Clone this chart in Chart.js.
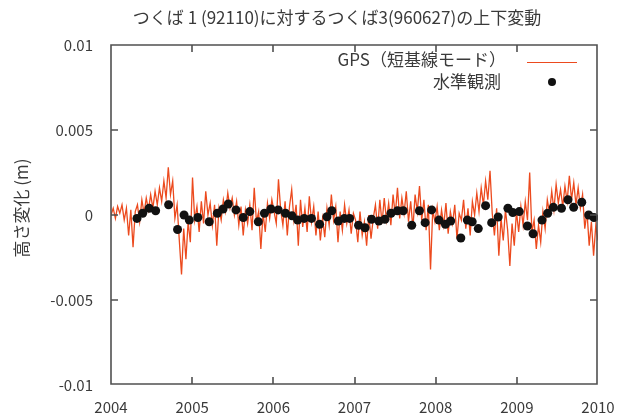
<!DOCTYPE html>
<html>
<head>
<meta charset="utf-8">
<script src="https://cdn.jsdelivr.net/npm/chart.js@4"></script>
<style>
  body { margin: 0; background: #fff; }
  canvas { display: block; }
</style>
</head>
<body>
<canvas id="chart" width="628" height="414"></canvas>
<script>
// Labels
const title = "つくば 1 (92110)に対するつくば3(960627)の上下変動";
const yTitle = "高さ変化 (m)";
const gpsLabel = "GPS（短基線モード）";
const levelLabel = "水準観測";

// Axis range / ticks
const xRange = [2004, 2010];
const yTicks = [-0.01, -0.005, 0, 0.005, 0.01];

// GPS (short baseline), mm, every 10 days from 2004.0 to 2010.0
const gpsMm = [
  // 2004
  0.0, 0.4, -0.2, 0.5, 0.1, 0.6, -0.3, 0.4, -1.2, 0.3, -1.9, 0.2, 0.6, -0.4, 0.9, 0.1, 1.0, 0.3, 1.2,
  0.4, 1.4, 0.6, 1.6, 0.8, 2.0, 1.0, 2.8, 1.2, 2.0, -0.2, 0.6, -1.5, -3.5, -0.8, -2.6, -0.4, -1.6,
  // 2005
  2.2, -0.3, 0.5, -1.0, 0.8, -0.5, 1.4, 0.0, 0.7, -0.6, 0.6, -1.8, 0.4, -0.3, 0.9, 0.2, 1.3, 0.4, 1.0,
  0.0, 0.8, -0.6, 0.5, -1.2, 0.3, -0.5, 0.6, -0.9, 1.6, -0.4, 0.2, -2.0, 0.1, -1.0, 0.7, -0.2, 0.9,
  // 2006
  0.2, -0.5, 2.1, 0.3, -0.6, 0.8, -1.2, 0.5, 1.5, -0.3, 0.6, -1.8, 0.9, -0.7, 0.4, -1.0, 1.1, -0.4, 0.5,
  -1.2, 0.2, -1.5, -0.2, -1.3, 0.4, -0.6, 1.2, -0.3, 0.5, -1.6, 0.2, -0.9, 0.6, -0.5, 0.3, -1.1, 0.1,
  // 2007
  -0.3, -1.6, 0.2, -1.2, -0.4, -1.8, 0.0, -1.4, -0.2, 0.6, -0.8, 0.9, -0.5, 1.0, -0.3, 0.7, -0.6, 1.2,
  0.0, 1.6, -0.2, 1.0, 0.1, 1.4, -0.4, 0.8, -0.8, 1.2, 0.2, 1.7, -0.3, 0.9, -0.9, 0.6, -3.2, 0.3,
  // 2008
  -0.4, 0.5, -0.9, 0.3, -0.6, 0.7, -1.1, 0.2, -0.5, 0.6, -1.4, 0.1, -0.3, 0.9, -0.8, 0.4, -1.2, 0.8,
  0.0, 1.3, 0.2, 1.6, 0.6, 2.0, 0.9, 2.6, 0.1, -1.2, 0.4, -2.4, -0.2, -1.5, 0.3, -0.9, -3.0, -0.5,
  // 2009
  -1.8, 0.2, -1.0, 0.5, -0.6, 0.8, -0.3, 2.5, -1.0, -0.3, -2.0, -0.6, -1.6, 0.2, -0.8, 0.9, 0.1, 1.4,
  0.3, 1.8, 0.7, 1.5, 0.5, 1.7, 0.8, 2.3, 0.9, 1.9, 0.6, 1.6, 0.4, 1.2, -0.8, 0.2, -1.8, -0.4, -2.4,
  -0.6, -1.5
];

// Levelling survey epochs (decimal year) and height change (mm)
const levelT = [
  2004.32, 2004.39, 2004.47, 2004.55, 2004.71, 2004.82, 2004.90, 2004.965,
  2005.07, 2005.21, 2005.31, 2005.38, 2005.445, 2005.54, 2005.63, 2005.71, 2005.815, 2005.89, 2005.97,
  2006.06, 2006.15, 2006.23, 2006.30, 2006.38, 2006.47, 2006.57, 2006.66, 2006.72, 2006.80, 2006.875, 2006.94,
  2007.05, 2007.13, 2007.21, 2007.30, 2007.375, 2007.45, 2007.53, 2007.60, 2007.705, 2007.80, 2007.87, 2007.95,
  2008.04, 2008.12, 2008.185, 2008.31, 2008.39, 2008.45, 2008.525, 2008.615, 2008.69, 2008.77, 2008.89, 2008.95,
  2009.03, 2009.13, 2009.20, 2009.31, 2009.38, 2009.45, 2009.55, 2009.63, 2009.70, 2009.80, 2009.885, 2009.95
];
const levelMm = [
  -0.2, 0.1, 0.4, 0.25, 0.6, -0.85, 0.0, -0.3,
  -0.15, -0.4, 0.1, 0.35, 0.65, 0.3, -0.15, 0.2, -0.4, 0.1, 0.35,
  0.3, 0.1, -0.05, -0.3, -0.2, -0.2, -0.55, -0.1, 0.25, -0.35, -0.2, -0.2,
  -0.6, -0.75, -0.25, -0.35, -0.25, 0.1, 0.25, 0.25, -0.6, 0.25, -0.45, 0.3,
  -0.3, -0.55, -0.35, -1.35, -0.3, -0.4, -0.8, 0.55, -0.45, -0.12, 0.4, 0.15,
  0.2, -0.65, -1.1, -0.3, 0.1, 0.45, 0.4, 0.9, 0.45, 0.75, 0.0, -0.15
];

const FONT = '"Noto Sans CJK JP", "Noto Sans", sans-serif';
const TEXT = "#3a3a3a";
const FRAME = "#505050";
const GPS_COLOR = "#ec4a1e";

// build point lists (mm -> m)
const gpsStep = (xRange[1] - xRange[0]) / (gpsMm.length - 1);
const gpsPoints = gpsMm.map((v, i) => ({ x: xRange[0] + i * gpsStep, y: v / 1000 }));
const levelPoints = levelT.map((t, i) => ({ x: t, y: levelMm[i] / 1000 }));

// frame, inward ticks, title, y title and gnuplot-like key
const decor = {
  id: "decor",
  afterDraw(chart) {
    const ctx = chart.ctx;
    const xs = chart.scales.x, ys = chart.scales.y;
    const x0 = Math.round(xs.left), x1 = Math.round(xs.right) - 1;
    const y0 = Math.round(ys.top), y1 = Math.round(ys.bottom) - 1;
    ctx.save();
    ctx.strokeStyle = FRAME;
    ctx.lineWidth = 1.6;
    ctx.beginPath();
    ctx.rect(x0, y0, x1 - x0, y1 - y0);
    // inward ticks
    const tl = 7;
    for (let yr = xRange[0] + 1; yr < xRange[1]; yr++) {
      const px = Math.round(xs.getPixelForValue(yr));
      ctx.moveTo(px, y1); ctx.lineTo(px, y1 - tl);
      ctx.moveTo(px, y0); ctx.lineTo(px, y0 + tl);
    }
    yTicks.slice(1, -1).forEach(v => {
      const py = Math.round(ys.getPixelForValue(v));
      ctx.moveTo(x0, py); ctx.lineTo(x0 + tl, py);
      ctx.moveTo(x1, py); ctx.lineTo(x1 - tl, py);
    });
    ctx.stroke();

    // title
    ctx.fillStyle = TEXT;
    ctx.font = "17px " + FONT;
    ctx.textAlign = "center";
    ctx.textBaseline = "middle";
    ctx.fillText(title, 337, 18);

    // y title
    ctx.save();
    ctx.translate(22, 208);
    ctx.rotate(-Math.PI / 2);
    ctx.fillText(yTitle, 0, 0);
    ctx.restore();

    // key
    ctx.textAlign = "right";
    ctx.fillText(gpsLabel, 506, 60);
    ctx.fillText(levelLabel, 501, 82);
    ctx.fillStyle = GPS_COLOR;
    ctx.fillRect(527, 62, 50, 1);
    ctx.fillStyle = "#111";
    ctx.beginPath();
    ctx.arc(552, 82, 4, 0, Math.PI * 2);
    ctx.fill();
    ctx.restore();
  }
};

new Chart(document.getElementById("chart").getContext("2d"), {
  type: "scatter",
  data: {
    datasets: [
      {
        label: levelLabel,
        data: levelPoints,
        pointRadius: 4.5,
        pointBackgroundColor: "#111",
        pointBorderWidth: 0,
        order: 0
      },
      {
        label: gpsLabel,
        data: gpsPoints,
        showLine: true,
        borderColor: GPS_COLOR,
        borderWidth: 1.3,
        pointRadius: 0,
        tension: 0,
        order: 1
      }
    ]
  },
  options: {
    responsive: false,
    animation: false,
    layout: { padding: { top: 45, right: 30, left: 0, bottom: 0 } },
    plugins: {
      legend: { display: false },
      tooltip: { enabled: false }
    },
    scales: {
      x: {
        type: "linear",
        min: xRange[0],
        max: xRange[1],
        grid: { display: false },
        border: { display: false },
        afterFit: s => { s.height = 29; },
        ticks: {
          stepSize: 1,
          maxRotation: 0,
          padding: 5,
          color: TEXT,
          font: { family: FONT, size: 15 },
          callback: v => String(v)
        }
      },
      y: {
        min: yTicks[0],
        max: yTicks[yTicks.length - 1],
        grid: { display: false },
        border: { display: false },
        afterFit: s => { s.width = 111; },
        afterBuildTicks: s => { s.ticks = yTicks.map(v => ({ value: v })); },
        ticks: {
          padding: 10,
          color: TEXT,
          font: { family: FONT, size: 15 },
          callback: v => String(+v.toFixed(3))
        }
      }
    }
  },
  plugins: [decor]
});
</script>
</body>
</html>
